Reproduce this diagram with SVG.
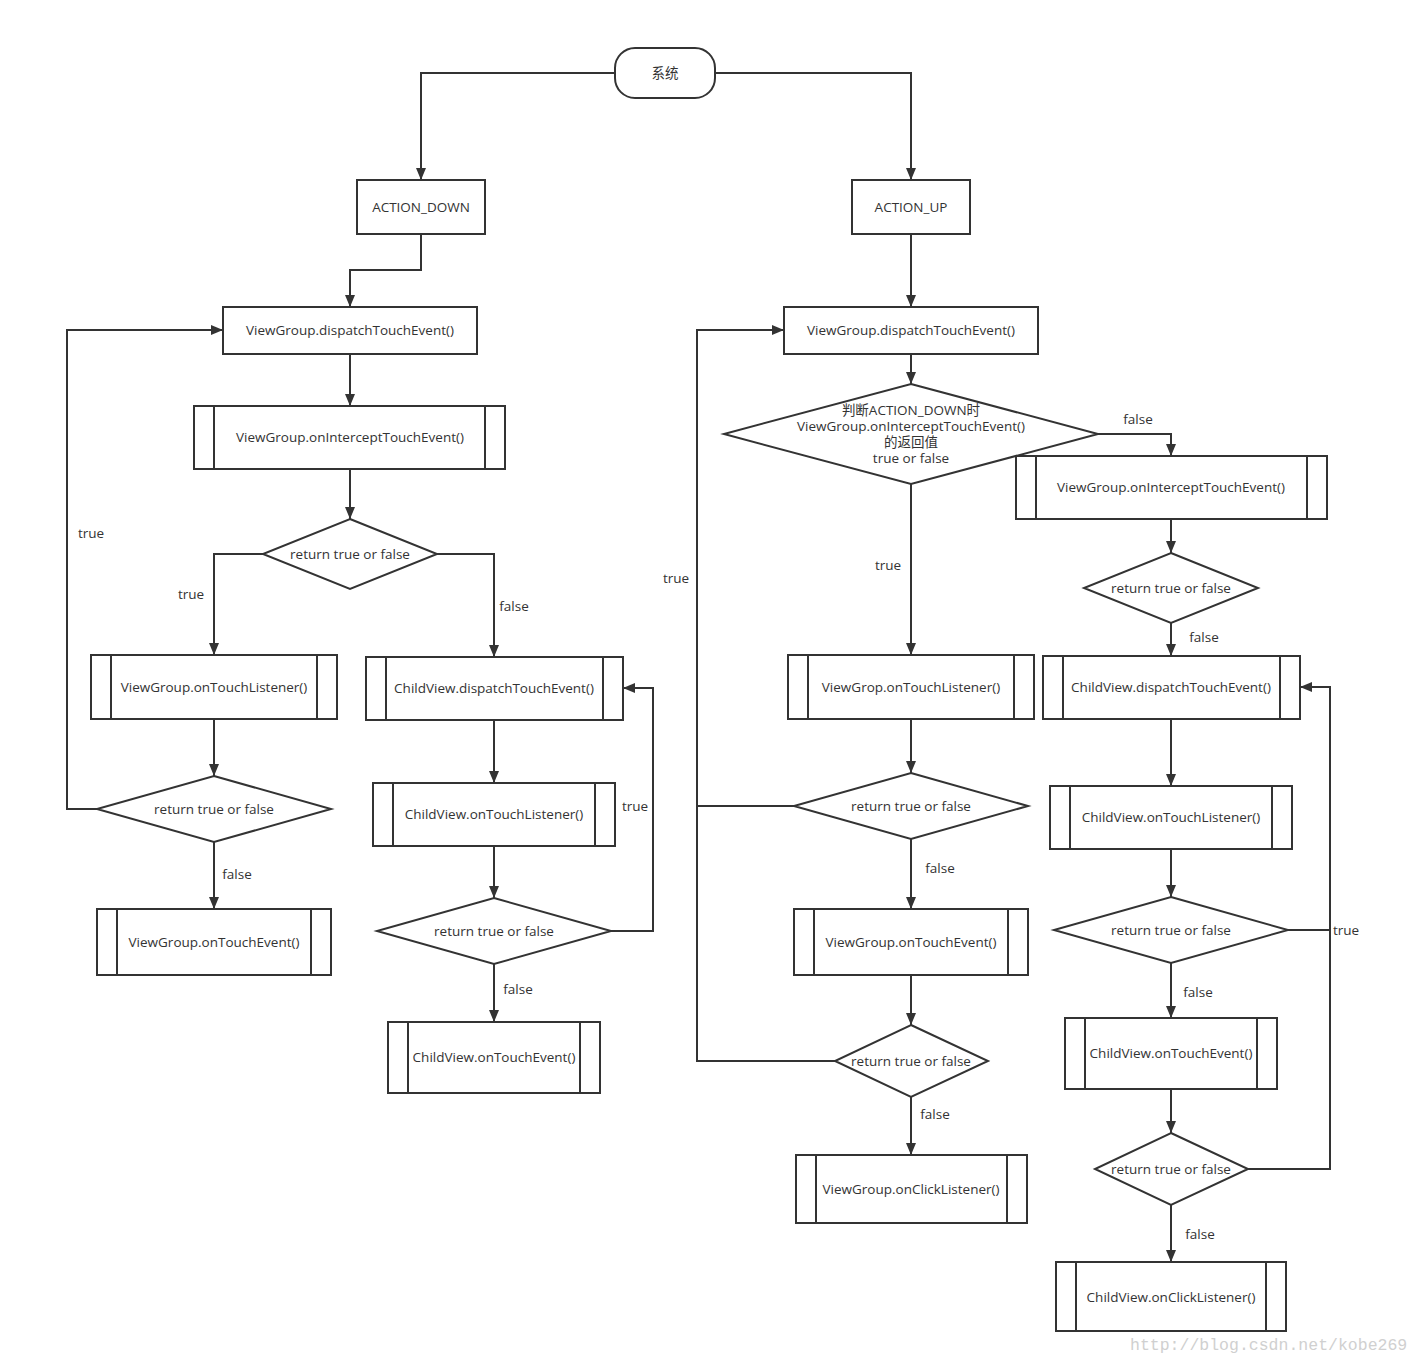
<svg xmlns="http://www.w3.org/2000/svg" width="1421" height="1363" viewBox="0 0 1421 1363">
<defs>
<marker id="arr" markerUnits="userSpaceOnUse" markerWidth="12" markerHeight="12" viewBox="0 0 12 12" refX="12" refY="6" orient="auto">
<path d="M0,1 L12,6 L0,11 Z" fill="#333"/>
</marker>
<style>
.n{fill:#fff;stroke:#333;stroke-width:2}
.s{fill:none;stroke:#333;stroke-width:2}
.t{font-family:"Open Sans","Noto Sans CJK SC",sans-serif;font-size:13.5px;fill:#333;text-anchor:middle;dominant-baseline:central}
.l{font-family:"Open Sans","Noto Sans CJK SC",sans-serif;font-size:13.5px;fill:#333;text-anchor:middle;dominant-baseline:central}
.c{fill:none;stroke:#333;stroke-width:2}
.a{marker-end:url(#arr)}
</style>
</defs>
<rect width="1421" height="1363" fill="#fff"/>
<g id="connectors">
<path class="c a" d="M615,73 H421 V180"/>
<path class="c a" d="M715,73 H911 V180"/>
<path class="c a" d="M421,234 V270 H350 V307"/>
<path class="c a" d="M350,354 V406"/>
<path class="c a" d="M350,469 V519"/>
<path class="c a" d="M263,554 H214 V655"/>
<path class="c a" d="M437,554 H494 V657"/>
<path class="c a" d="M214,719 V776"/>
<path class="c a" d="M97,809 H67 V330 H223"/>
<path class="c a" d="M214,842 V909"/>
<path class="c a" d="M494,720 V783"/>
<path class="c a" d="M494,846 V898"/>
<path class="c a" d="M611,931 H653 V688 H623"/>
<path class="c a" d="M494,964 V1022"/>
<path class="c a" d="M911,234 V307"/>
<path class="c a" d="M911,354 V384"/>
<path class="c a" d="M1098,434 H1171 V456"/>
<path class="c a" d="M911,484 V655"/>
<path class="c a" d="M1171,519 V553"/>
<path class="c a" d="M1171,623 V656"/>
<path class="c a" d="M1171,719 V786"/>
<path class="c a" d="M1171,849 V897"/>
<path class="c a" d="M1288,930 H1330 V687 H1300"/>
<path class="c" d="M1248,1169 H1330 V930"/>
<path class="c a" d="M1171,963 V1018"/>
<path class="c a" d="M1171,1089 V1133"/>
<path class="c a" d="M1171,1205 V1262"/>
<path class="c a" d="M911,719 V773"/>
<path class="c a" d="M794,806 H697 V330 H784"/>
<path class="c" d="M835,1061 H697 V806"/>
<path class="c a" d="M911,839 V909"/>
<path class="c a" d="M911,975 V1025"/>
<path class="c a" d="M911,1097 V1155"/>
<text class="l" x="91" y="533">true</text>
<text class="l" x="191" y="594">true</text>
<text class="l" x="514" y="606">false</text>
<text class="l" x="237" y="874">false</text>
<text class="l" x="635" y="806">true</text>
<text class="l" x="518" y="989">false</text>
<text class="l" x="1138" y="419">false</text>
<text class="l" x="888" y="565">true</text>
<text class="l" x="1204" y="637">false</text>
<text class="l" x="1346" y="930">true</text>
<text class="l" x="1198" y="992">false</text>
<text class="l" x="1200" y="1234">false</text>
<text class="l" x="676" y="578">true</text>
<text class="l" x="940" y="868">false</text>
<text class="l" x="935" y="1114">false</text>
</g>
<g id="start"><rect class="n" x="615" y="48" width="100" height="50" rx="20"/><text class="t" x="665" y="73">系统</text></g>
<g id="action-down"><rect class="n" x="357" y="180" width="128" height="54"/><text class="t" x="421" y="207">ACTION_DOWN</text></g>
<g id="action-up"><rect class="n" x="852" y="180" width="118" height="54"/><text class="t" x="911" y="207">ACTION_UP</text></g>

<g id="l-dispatch"><rect class="n" x="223" y="307" width="254" height="47"/><text class="t" x="350" y="330">ViewGroup.dispatchTouchEvent()</text></g>
<g id="l-intercept"><rect class="n" x="194" y="406" width="311" height="63"/><path class="s" d="M214,406 V469 M485,406 V469"/><text class="t" x="350" y="437">ViewGroup.onInterceptTouchEvent()</text></g>
<g id="l-d1"><polygon class="n" points="350,519 437,554 350,589 263,554"/><text class="t" x="350" y="554">return true or false</text></g>
<g id="l-vg-listener"><rect class="n" x="91" y="655" width="246" height="64"/><path class="s" d="M111,655 V719 M317,655 V719"/><text class="t" x="214" y="687">ViewGroup.onTouchListener()</text></g>
<g id="l-cv-dispatch"><rect class="n" x="366" y="657" width="257" height="63"/><path class="s" d="M386,657 V720 M603,657 V720"/><text class="t" x="494" y="688">ChildView.dispatchTouchEvent()</text></g>
<g id="l-d2"><polygon class="n" points="214,776 331,809 214,842 97,809"/><text class="t" x="214" y="809">return true or false</text></g>
<g id="l-vg-touch"><rect class="n" x="97" y="909" width="234" height="66"/><path class="s" d="M117,909 V975 M311,909 V975"/><text class="t" x="214" y="942">ViewGroup.onTouchEvent()</text></g>
<g id="l-cv-listener"><rect class="n" x="373" y="783" width="242" height="63"/><path class="s" d="M393,783 V846 M595,783 V846"/><text class="t" x="494" y="814">ChildView.onTouchListener()</text></g>
<g id="l-d3"><polygon class="n" points="494,898 611,931 494,964 377,931"/><text class="t" x="494" y="931">return true or false</text></g>
<g id="l-cv-touch"><rect class="n" x="388" y="1022" width="212" height="71"/><path class="s" d="M408,1022 V1093 M580,1022 V1093"/><text class="t" x="494" y="1057">ChildView.onTouchEvent()</text></g>

<g id="r-dispatch"><rect class="n" x="784" y="307" width="254" height="47"/><text class="t" x="911" y="330">ViewGroup.dispatchTouchEvent()</text></g>
<g id="r-dbig"><polygon class="n" points="911,384 1098,434 911,484 724,434"/>
<text class="t" x="911" y="410">判断ACTION_DOWN时</text><text class="t" x="911" y="426">ViewGroup.onInterceptTouchEvent()</text><text class="t" x="911" y="442">的返回值</text><text class="t" x="911" y="458">true or false</text></g>
<g id="r-intercept"><rect class="n" x="1016" y="456" width="311" height="63"/><path class="s" d="M1036,456 V519 M1307,456 V519"/><text class="t" x="1171" y="487">ViewGroup.onInterceptTouchEvent()</text></g>
<g id="r-d1"><polygon class="n" points="1171,553 1258,588 1171,623 1084,588"/><text class="t" x="1171" y="588">return true or false</text></g>
<g id="r-cv-dispatch"><rect class="n" x="1043" y="656" width="257" height="63"/><path class="s" d="M1063,656 V719 M1280,656 V719"/><text class="t" x="1171" y="687">ChildView.dispatchTouchEvent()</text></g>
<g id="r-cv-listener"><rect class="n" x="1050" y="786" width="242" height="63"/><path class="s" d="M1070,786 V849 M1272,786 V849"/><text class="t" x="1171" y="817">ChildView.onTouchListener()</text></g>
<g id="r-d2"><polygon class="n" points="1171,897 1288,930 1171,963 1054,930"/><text class="t" x="1171" y="930">return true or false</text></g>
<g id="r-cv-touch"><rect class="n" x="1065" y="1018" width="212" height="71"/><path class="s" d="M1085,1018 V1089 M1257,1018 V1089"/><text class="t" x="1171" y="1053">ChildView.onTouchEvent()</text></g>
<g id="r-d3"><polygon class="n" points="1171,1133 1248,1169 1171,1205 1095,1169"/><text class="t" x="1171" y="1169">return true or false</text></g>
<g id="r-cv-click"><rect class="n" x="1056" y="1262" width="230" height="69"/><path class="s" d="M1076,1262 V1331 M1266,1262 V1331"/><text class="t" x="1171" y="1297">ChildView.onClickListener()</text></g>

<g id="m-listener"><rect class="n" x="788" y="655" width="246" height="64"/><path class="s" d="M808,655 V719 M1014,655 V719"/><text class="t" x="911" y="687">ViewGrop.onTouchListener()</text></g>
<g id="m-d2"><polygon class="n" points="911,773 1028,806 911,839 794,806"/><text class="t" x="911" y="806">return true or false</text></g>
<g id="m-touch"><rect class="n" x="794" y="909" width="234" height="66"/><path class="s" d="M814,909 V975 M1008,909 V975"/><text class="t" x="911" y="942">ViewGroup.onTouchEvent()</text></g>
<g id="m-d3"><polygon class="n" points="911,1025 988,1061 911,1097 835,1061"/><text class="t" x="911" y="1061">return true or false</text></g>
<g id="m-click"><rect class="n" x="796" y="1155" width="231" height="68"/><path class="s" d="M816,1155 V1223 M1007,1155 V1223"/><text class="t" x="911" y="1189">ViewGroup.onClickListener()</text></g>

<text x="1130" y="1350" font-family="Liberation Mono, monospace" font-size="16.5" fill="#d0d0d0">http://blog.csdn.net/kobe269</text>
</svg>
